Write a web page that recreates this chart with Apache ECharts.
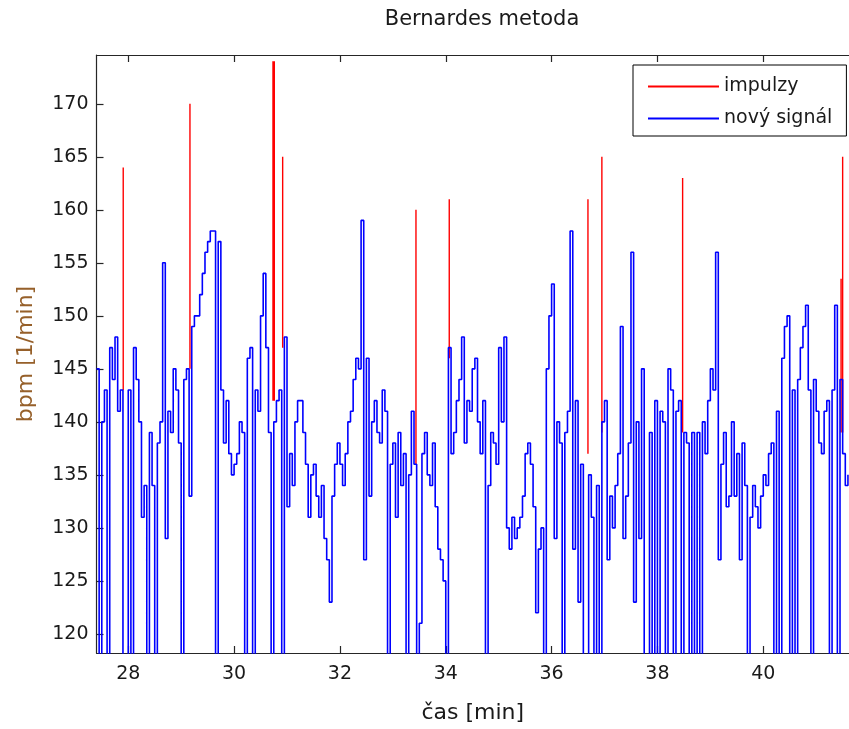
<!DOCTYPE html>
<html>
<head>
<meta charset="utf-8">
<script src="https://cdn.jsdelivr.net/npm/echarts@6/dist/echarts.min.js"></script>
<style>
html,body{margin:0;padding:0;background:#fff;}
#chart{width:849px;height:729px;}
</style>
</head>
<body>
<div id="chart"></div>
<script>
// ---- data ----
const titleText = 'Bernardes metoda';
const xName = 'čas [min]';
const yName = 'bpm [1/min]';
const seriesNames = ['impulzy', 'nový signál'];
const xTicks = [28, 30, 32, 34, 36, 38, 40];
const yTicks = [120, 125, 130, 135, 140, 145, 150, 155, 160, 165, 170];
const xRange = [27.4, 41.62];
const yRange = [118.2, 174.6];

// new signal: one value per sample, samples start at sampleStart, spaced sampleStep min
const sampleStart = 27.4;
const sampleStep = 0.05;
const signal = [
145,100,140,143,100,147,144,148,141,143,
100,100,143,100,147,144,140,131,134,100,
139,134,100,138,140,155,129,141,139,145,
143,138,100,144,145,133,149,150,150,152,
154,156,157,158,158,100,157,143,138,142,
137,135,136,137,140,139,100,146,147,100,
143,141,150,154,147,139,100,140,142,143,
100,148,132,137,134,140,142,142,139,136,
131,135,136,133,131,134,129,127,123,133,
136,138,136,134,137,140,141,144,146,145,
159,127,146,133,140,142,139,138,143,141,
100,136,138,131,139,134,137,100,135,141,
136,100,121,137,139,135,134,138,132,128,
127,125,100,147,137,139,142,144,148,138,
142,141,145,146,140,137,142,100,134,139,
138,136,147,140,148,130,128,131,129,130,
131,133,137,138,136,132,122,128,130,100,
145,150,153,129,140,138,100,139,141,158,
128,142,123,136,100,100,135,131,100,134,
100,140,142,127,133,130,134,137,149,129,
133,138,156,123,140,129,145,100,100,139,
100,142,100,141,140,100,145,143,100,141,
142,100,139,138,100,139,100,139,100,140,
137,142,145,143,156,127,136,139,132,133,
140,133,137,127,138,134,100,131,134,132,
130,133,135,134,137,138,100,141,100,146,
149,150,100,143,100,144,147,149,151,143,
100,144,141,138,137,141,142,100,143,151,
100,144,137,134,135
];

// impulses: time [min], peak value, value of the signal at the impulse
const impulseTimes = [27.905, 29.166, 30.735, 30.76, 30.918, 33.437, 34.066, 36.687, 36.95, 38.476, 41.47, 41.50];
const impulsePeaks = [164, 170, 174, 174, 165, 160, 161, 161, 165, 163, 153.5, 165];
const impulseBases = [143, 145, 142, 142, 147, 136, 146, 137, 139, 139, 139, 139];

// ---- build series data ----
const signalData = signal.map((v, i) => [sampleStart + i * sampleStep, v]);
const impulseData = [];
impulseTimes.forEach((t, k) => {
  impulseData.push([t, impulseBases[k]]);
  impulseData.push([t, impulsePeaks[k]]);
  impulseData.push([t, '-']);
});

const FONT = 'DejaVu Sans';
const axisColor = '#262626';

const chart = echarts.init(document.getElementById('chart'), null, {renderer: 'canvas'});
chart.setOption({
  animation: false,
  backgroundColor: '#fff',
  graphic: [{
    type: 'text', x: 482, y: 20,
    style: {text: titleText, fontFamily: FONT, fontSize: 21, fill: '#1a1a1a', textAlign: 'center', textVerticalAlign: 'middle'}
  }],
  grid: {left: 96.5, top: 55, right: 0, bottom: 73, containLabel: false},
  legend: {
    orient: 'vertical', left: 633, top: 65,
    backgroundColor: '#fff', borderColor: '#000', borderWidth: 1,
    padding: [12, 14, 8, 14],
    itemWidth: 71, itemHeight: 20, itemGap: 13,
    itemStyle: {opacity: 0},
    textStyle: {fontFamily: FONT, fontSize: 19, color: '#1a1a1a'},
    data: seriesNames
  },
  xAxis: [{
    type: 'value', min: xRange[0], max: xRange[1], position: 'bottom',
    name: xName, nameLocation: 'middle', nameGap: 49,
    nameTextStyle: {fontFamily: FONT, fontSize: 22, color: '#1a1a1a'},
    axisLine: {show: true, onZero: false, lineStyle: {color: axisColor, width: 1.2}},
    axisTick: {show: true, inside: true, length: 7, customValues: xTicks, lineStyle: {color: axisColor, width: 1.2}},
    axisLabel: {customValues: xTicks, fontFamily: FONT, fontSize: 19, color: '#1a1a1a', margin: 12},
    splitLine: {show: false}
  }, {
    type: 'value', min: xRange[0], max: xRange[1], position: 'top',
    axisLine: {show: true, onZero: false, lineStyle: {color: axisColor, width: 1.2}},
    axisTick: {show: true, inside: true, length: 7, customValues: xTicks, lineStyle: {color: axisColor, width: 1.2}},
    axisLabel: {show: false},
    splitLine: {show: false}
  }],
  yAxis: [{
    type: 'value', min: yRange[0], max: yRange[1],
    name: yName, nameLocation: 'middle', nameGap: 59,
    nameTextStyle: {fontFamily: FONT, fontSize: 22, color: '#96602a'},
    axisLine: {show: true, onZero: false, lineStyle: {color: axisColor, width: 1.2}},
    axisTick: {show: true, inside: true, length: 7, customValues: yTicks, lineStyle: {color: axisColor, width: 1.2}},
    axisLabel: {customValues: yTicks, fontFamily: FONT, fontSize: 19, color: '#1a1a1a', margin: 8},
    splitLine: {show: false}
  }],
  series: [{
    name: seriesNames[0], type: 'line', data: impulseData,
    symbol: 'none', connectNulls: false, clip: true,
    lineStyle: {color: '#ff0000', width: 1.4},
    itemStyle: {color: '#ff0000'}
  }, {
    name: seriesNames[1], type: 'line', data: signalData,
    symbol: 'none', step: 'end', clip: true, sampling: null,
    lineStyle: {color: '#0000ff', width: 1.6},
    itemStyle: {color: '#0000ff'}
  }]
});
</script>
</body>
</html>
